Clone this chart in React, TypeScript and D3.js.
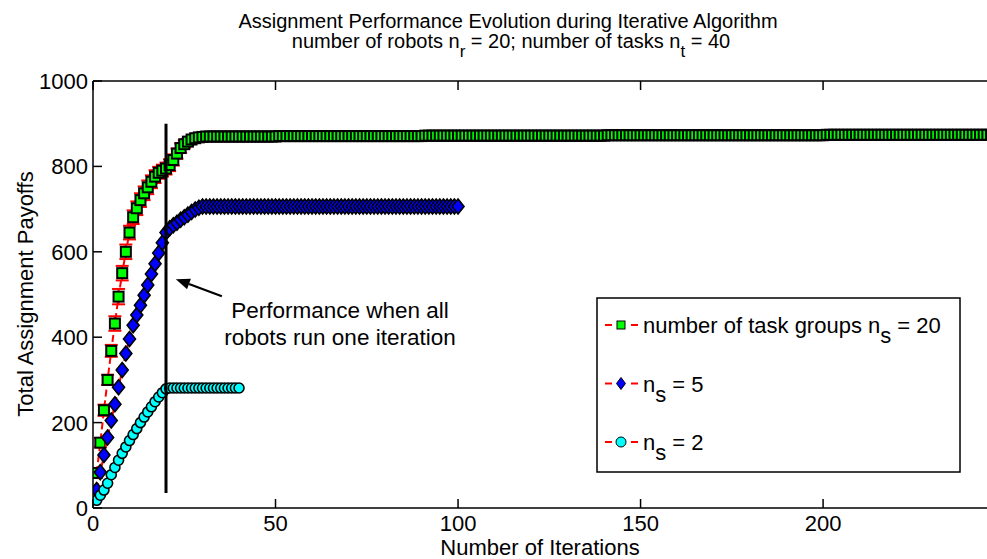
import React from "react";
import * as d3 from "d3";

// values, one per iteration starting at iteration 1
const greenValues = [
    82, 153, 229, 300, 368, 432, 495, 550, 600, 645, 681, 702, 721, 737, 751, 764, 776, 785, 790, 795,
    803, 815, 830, 843, 852, 858, 863, 866, 868, 869,
    870, 870, 870, 870, 870, 870, 870, 870, 870, 870, 870, 870, 870, 870, 870, 870, 870, 870, 870, 870,
    871, 871, 871, 871, 871, 871, 871, 871, 871, 871, 871, 871, 871, 871, 871, 871, 871, 871, 871, 871,
    871, 871, 871, 871, 871, 871, 871, 871, 871, 871, 871, 871, 871, 871, 871, 871, 871, 871, 871, 871,
    872, 872, 872, 872, 872, 872, 872, 872, 872, 872, 872, 872, 872, 872, 872, 872, 872, 872, 872, 872,
    872, 872, 872, 872, 872, 872, 872, 872, 872, 872, 872, 872, 872, 872, 872, 872, 872, 872, 872, 872,
    872, 872, 872, 872, 872, 872, 872, 872, 872, 872,
    873, 873, 873, 873, 873, 873, 873, 873, 873, 873, 873, 873, 873, 873, 873, 873, 873, 873, 873, 873,
    873, 873, 873, 873, 873, 873, 873, 873, 873, 873, 873, 873, 873, 873, 873, 873, 873, 873, 873, 873,
    873, 873, 873, 873, 873, 873, 873, 873, 873, 873, 873, 873, 873, 873, 873, 873, 873, 873, 873, 873,
    874, 874, 874, 874, 874, 874, 874, 874, 874, 874, 874, 874, 874, 874, 874, 874, 874, 874, 874, 874,
    874, 874, 874, 874, 874, 874, 874, 874, 874, 874, 874, 874, 874, 874, 874, 874, 874, 874, 874, 874,
    874, 874, 874, 874, 874, 874,
];
const greenErrors = [
    9, 11, 13, 12, 14, 17, 18, 17, 17, 16, 16, 16, 16, 16, 16, 15, 15, 14, 14, 14,
    14, 13, 12, 11, 9, 7, 5, 3, 1, 0,
];
const blueValues = [
    42, 84, 124, 165, 205, 243, 283, 323, 362, 396, 428, 452, 475, 498, 522, 548, 572, 597, 621, 645,
    655, 662, 668, 675, 681, 687, 693, 699, 703, 706,
    706, 706, 706, 706, 706, 706, 706, 706, 706, 706, 706, 706, 706, 706, 706, 706, 706, 706, 706, 706,
    706, 706, 706, 706, 706, 706, 706, 706, 706, 706, 706, 706, 706, 706, 706, 706, 706, 706, 706, 706,
    706, 706, 706, 706, 706, 706, 706, 706, 706, 706, 706, 706, 706, 706, 706, 706, 706, 706, 706, 706,
    706, 706, 706, 706, 706, 706, 706, 706, 706, 706,
];
const cyanValues = [
    18, 30, 42, 58, 78, 95, 112, 128, 143, 158, 172, 186, 200, 213, 225, 237, 249, 260, 270, 279,
    281, 281, 281, 281, 281, 281, 281, 281, 281, 281, 281, 281, 281, 281, 281, 281, 281, 281, 281, 281,
];

const xTicks = [0, 50, 100, 150, 200];
const yTicks = [0, 200, 400, 600, 800, 1000];

// marker line at iteration 20 and the arrow pointing to it
const markerIter = 20;
const markerRange = [35, 900];
const arrowHead = [22.7, 536];
const arrowTail = [35.3, 496];

const W = 987;
const H = 559;
const font = "'Liberation Sans', Arial, Helvetica, sans-serif";

type Pt = { it: number; v: number };
const toPts = (arr: number[]): Pt[] => arr.map((v, i) => ({ it: i + 1, v }));

export default function App() {
    const x = d3.scaleLinear().domain([0, 246]).range([93, 991]);
    const y = d3.scaleLinear().domain([0, 1000]).range([508, 81]);

    const green = toPts(greenValues);
    const blue = toPts(blueValues);
    const cyan = toPts(cyanValues);

    const line = d3
        .line<Pt>()
        .x((d) => x(d.it))
        .y((d) => y(d.v));

    const sq = 5;
    const dia = (cx: number, cy: number) =>
        `M${cx},${cy - 7.5}L${cx + 6},${cy}L${cx},${cy + 7.5}L${cx - 6},${cy}Z`;

    const x0 = x.range()[0];
    const x1 = x.range()[1];
    const yb = y.range()[0];
    const yt = y.range()[1];
    const tick = 9;

    const hx = x(arrowHead[0]);
    const hy = y(arrowHead[1]);
    const tx = x(arrowTail[0]);
    const ty = y(arrowTail[1]);
    const ang = Math.atan2(hy - ty, hx - tx);
    const al = 14;
    const aw = 5.5;
    const bx = hx - al * Math.cos(ang);
    const by = hy - al * Math.sin(ang);
    const arrowPath = `M${hx},${hy}L${bx - aw * Math.sin(ang)},${by + aw * Math.cos(ang)}L${bx + aw * Math.sin(ang)},${by - aw * Math.cos(ang)}Z`;

    const legendItems = [
        { kind: "sq", label: "number of task groups n", sub: "s", rest: " = 20" },
        { kind: "dia", label: "n", sub: "s", rest: " = 5" },
        { kind: "circ", label: "n", sub: "s", rest: " = 2" },
    ];

    return (
        <svg
            width={W}
            height={H}
            style={{ position: "absolute", left: 0, top: 0, background: "#fff" }}
            fontFamily={font}
        >
            <rect x={0} y={0} width={W} height={H} fill="#fff" />
            <defs>
                <clipPath id="plot">
                    <rect x={x0} y={yt - 10} width={x1 - x0} height={yb - yt + 20} />
                </clipPath>
            </defs>

            {/* title */}
            <text x={508} y={28} textAnchor="middle" fontSize={20}>
                Assignment Performance Evolution during Iterative Algorithm
            </text>
            <text x={511} y={48} textAnchor="middle" fontSize={20}>
                number of robots n
                <tspan dy={9} fontSize={17}>r</tspan>
                <tspan dy={-9}> = 20; number of tasks n</tspan>
                <tspan dy={9} fontSize={17}>t</tspan>
                <tspan dy={-9}> = 40</tspan>
            </text>

            <g clipPath="url(#plot)">
                {/* green: errorbars + dashed line + squares */}
                <path d={line(green) ?? ""} fill="none" stroke="#ff0000" strokeWidth={2} strokeDasharray="7,4" />
                {green.map((d, i) => {
                    const e = greenErrors[i] ?? 0;
                    if (!e) return null;
                    const cx = x(d.it);
                    return (
                        <g key={"e" + i} stroke="#ff0000" strokeWidth={2}>
                            <line x1={cx} x2={cx} y1={y(d.v - e)} y2={y(d.v + e)} />
                            <line x1={cx - 6.5} x2={cx + 6.5} y1={y(d.v - e)} y2={y(d.v - e)} />
                            <line x1={cx - 6.5} x2={cx + 6.5} y1={y(d.v + e)} y2={y(d.v + e)} />
                        </g>
                    );
                })}
                {green.map((d, i) => (
                    <rect
                        key={"g" + i}
                        x={x(d.it) - sq}
                        y={y(d.v) - sq}
                        width={sq * 2}
                        height={sq * 2}
                        fill="#00ff00"
                        stroke="#000"
                        strokeWidth={2}
                    />
                ))}

                {/* blue */}
                <path d={line(blue) ?? ""} fill="none" stroke="#ff0000" strokeWidth={2} strokeDasharray="7,4" />
                {blue.map((d, i) => (
                    <path key={"b" + i} d={dia(x(d.it), y(d.v))} fill="#0000ff" stroke="#000" strokeWidth={1.6} />
                ))}

                {/* cyan */}
                <path d={line(cyan) ?? ""} fill="none" stroke="#ff0000" strokeWidth={2} strokeDasharray="7,4" />
                {cyan.map((d, i) => (
                    <circle key={"c" + i} cx={x(d.it)} cy={y(d.v)} r={5} fill="#00ffff" stroke="#000" strokeWidth={1.6} />
                ))}
            </g>

            {/* vertical marker line */}
            <line
                x1={x(markerIter)}
                x2={x(markerIter)}
                y1={y(markerRange[0])}
                y2={y(markerRange[1])}
                stroke="#000"
                strokeWidth={3}
            />

            {/* arrow + annotation */}
            <line x1={tx} y1={ty} x2={bx} y2={by} stroke="#000" strokeWidth={2.2} />
            <path d={arrowPath} fill="#000" />
            <text x={340} y={318} textAnchor="middle" fontSize={22.5}>
                Performance when all
            </text>
            <text x={340} y={345} textAnchor="middle" fontSize={22.5}>
                robots run one iteration
            </text>

            {/* axes box */}
            <g stroke="#000" strokeWidth={1.5} fill="none">
                <line x1={x0} x2={x1} y1={yb} y2={yb} />
                <line x1={x0} x2={x1} y1={yt} y2={yt} />
                <line x1={x0} x2={x0} y1={yt} y2={yb} />
                <line x1={x1} x2={x1} y1={yt} y2={yb} />
                {yTicks.map((t) => (
                    <line key={"yt" + t} x1={x0} x2={x0 + tick} y1={y(t)} y2={y(t)} />
                ))}
                {xTicks.map((t) => (
                    <g key={"xt" + t}>
                        <line x1={x(t)} x2={x(t)} y1={yb} y2={yb - tick} />
                        <line x1={x(t)} x2={x(t)} y1={yt} y2={yt + tick} />
                    </g>
                ))}
            </g>

            {yTicks.map((t) => (
                <text key={"yl" + t} x={88} y={y(t) + 8} textAnchor="end" fontSize={22}>
                    {t}
                </text>
            ))}
            {xTicks.map((t) => (
                <text key={"xl" + t} x={x(t)} y={531} textAnchor="middle" fontSize={22}>
                    {t}
                </text>
            ))}

            <text x={540} y={555} textAnchor="middle" fontSize={22}>
                Number of Iterations
            </text>
            <text transform="translate(33,294) rotate(-90)" textAnchor="middle" fontSize={22}>
                Total Assignment Payoffs
            </text>

            {/* legend */}
            <rect x={597} y={298} width={363} height={174} fill="#fff" stroke="#000" strokeWidth={1.5} />
            {legendItems.map((it, i) => {
                const cy = 325 + i * 58.5;
                const mx = 621;
                return (
                    <g key={"lg" + i}>
                        <line x1={605} x2={612} y1={cy} y2={cy} stroke="#ff0000" strokeWidth={2} />
                        <line x1={631} x2={638} y1={cy} y2={cy} stroke="#ff0000" strokeWidth={2} />
                        {it.kind === "sq" && (
                            <rect x={mx - 4} y={cy - 4} width={8} height={8} fill="#00ff00" stroke="#000" strokeWidth={1} />
                        )}
                        {it.kind === "dia" && <path d={`M${mx},${cy - 6}L${mx + 4.5},${cy}L${mx},${cy + 6}L${mx - 4.5},${cy}Z`} fill="#0000ff" stroke="#000" strokeWidth={1} />}
                        {it.kind === "circ" && <circle cx={mx} cy={cy} r={5} fill="#00ffff" stroke="#000" strokeWidth={1} />}
                        <text x={643} y={cy + 8} fontSize={22}>
                            {it.label}
                            <tspan dy={10}>{it.sub}</tspan>
                            <tspan dy={-10}>{it.rest}</tspan>
                        </text>
                    </g>
                );
            })}
        </svg>
    );
}
